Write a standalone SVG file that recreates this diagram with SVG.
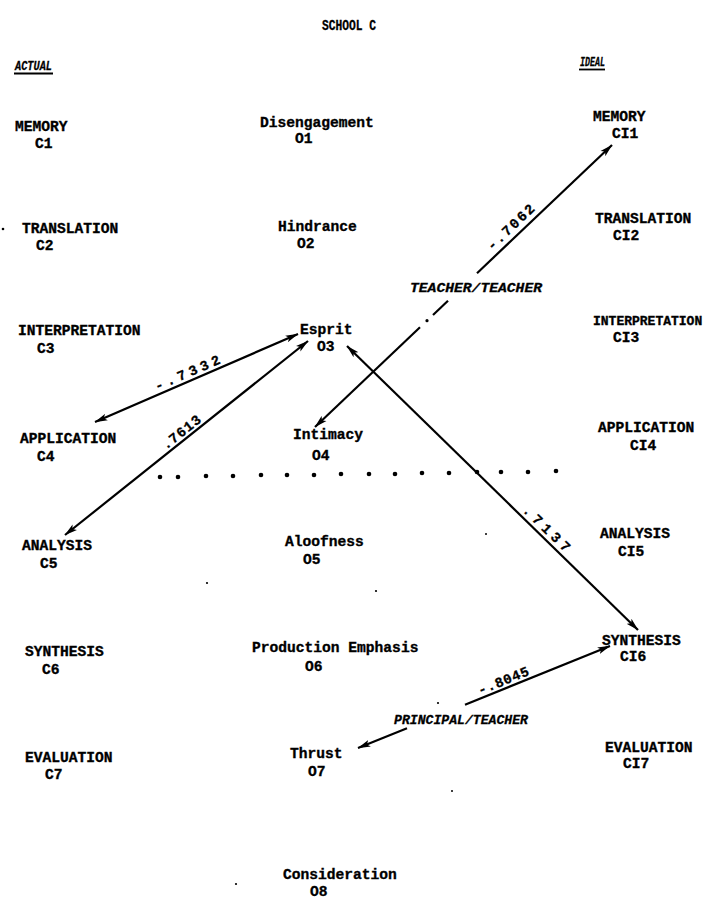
<svg xmlns="http://www.w3.org/2000/svg" width="710" height="909" viewBox="0 0 710 909">
  <style>
    .t { font-family: "Liberation Mono", "DejaVu Sans Mono", monospace; font-weight: bold; font-size: 14.6px; fill: #000; stroke: #000; stroke-width: 0.35px; }
    .h { font-family: "Liberation Mono", monospace; font-weight: bold; font-size: 14px; fill: #000; stroke: #000; stroke-width: 0.3px; }
    .hi { font-family: "Liberation Mono", monospace; font-weight: bold; font-style: italic; font-size: 13px; fill: #000; stroke: #000; stroke-width: 0.3px; }
    .lab { font-family: "Liberation Mono", monospace; font-weight: bold; font-style: italic; font-size: 13px; fill: #000; stroke: #000; stroke-width: 0.3px; }
    .num { font-family: "Liberation Mono", monospace; font-weight: bold; font-size: 14px; fill: #000; stroke: #000; stroke-width: 0.3px; }
    .ln { stroke: #000; stroke-width: 2.2; fill: none; }
    .ul { stroke: #000; stroke-width: 1.8; }
  </style>
  <defs>
    <marker id="ah" viewBox="0 0 13 8" refX="12.5" refY="4" markerWidth="13" markerHeight="8" markerUnits="userSpaceOnUse" orient="auto-start-reverse">
      <path d="M0,0.5 L13,4 L0,7.5 L3,4 z" fill="#000"/>
    </marker>
  </defs>
  <rect width="710" height="909" fill="#fff"/>

  <!-- headings -->
  <g id="title">
    <text class="h" x="322" y="30" textLength="54" lengthAdjust="spacingAndGlyphs">SCHOOL C</text>
  </g>
  <g id="head-actual">
    <text class="hi" x="15" y="70" textLength="37" lengthAdjust="spacingAndGlyphs">ACTUAL</text>
    <line class="ul" x1="14" y1="73.5" x2="53" y2="73.5"/>
  </g>
  <g id="head-ideal">
    <text class="hi" x="580" y="66" textLength="25" lengthAdjust="spacingAndGlyphs">IDEAL</text>
    <line class="ul" x1="579" y1="69.5" x2="605" y2="69.5"/>
  </g>

  <!-- actual cognitive levels -->
  <g id="C1"><text class="t" x="15" y="131">MEMORY</text><text class="t" x="35" y="148">C1</text></g>
  <g id="C2"><text class="t" x="22" y="233">TRANSLATION</text><text class="t" x="36" y="250">C2</text></g>
  <g id="C3"><text class="t" x="18" y="335">INTERPRETATION</text><text class="t" x="37" y="353">C3</text></g>
  <g id="C4"><text class="t" x="20" y="443">APPLICATION</text><text class="t" x="37" y="461">C4</text></g>
  <g id="C5"><text class="t" x="22" y="550">ANALYSIS</text><text class="t" x="40" y="568">C5</text></g>
  <g id="C6"><text class="t" x="25" y="656">SYNTHESIS</text><text class="t" x="42" y="674">C6</text></g>
  <g id="C7"><text class="t" x="25" y="762">EVALUATION</text><text class="t" x="45" y="779">C7</text></g>

  <!-- organizational climate -->
  <g id="O1"><text class="t" x="260" y="127">Disengagement</text><text class="t" x="295" y="143">O1</text></g>
  <g id="O2"><text class="t" x="278" y="231">Hindrance</text><text class="t" x="297" y="248">O2</text></g>
  <g id="O3"><text class="t" x="300" y="334">Esprit</text><text class="t" x="317" y="351">O3</text></g>
  <g id="O4"><text class="t" x="293" y="439">Intimacy</text><text class="t" x="312" y="460">O4</text></g>
  <g id="O5"><text class="t" x="285" y="546">Aloofness</text><text class="t" x="303" y="564">O5</text></g>
  <g id="O6"><text class="t" x="252" y="652">Production Emphasis</text><text class="t" x="305" y="671">O6</text></g>
  <g id="O7"><text class="t" x="290" y="758">Thrust</text><text class="t" x="308" y="776">O7</text></g>
  <g id="O8"><text class="t" x="283" y="879">Consideration</text><text class="t" x="310" y="896">O8</text></g>

  <!-- ideal cognitive levels -->
  <g id="CI1"><text class="t" x="593" y="121">MEMORY</text><text class="t" x="612" y="138">CI1</text></g>
  <g id="CI2"><text class="t" x="595" y="223">TRANSLATION</text><text class="t" x="613" y="240">CI2</text></g>
  <g id="CI3"><text class="t" x="593" y="325" style="font-size:13px">INTERPRETATION</text><text class="t" x="613" y="342">CI3</text></g>
  <g id="CI4"><text class="t" x="598" y="432">APPLICATION</text><text class="t" x="630" y="450">CI4</text></g>
  <g id="CI5"><text class="t" x="600" y="538">ANALYSIS</text><text class="t" x="618" y="556">CI5</text></g>
  <g id="CI6"><text class="t" x="602" y="645">SYNTHESIS</text><text class="t" x="620" y="661">CI6</text></g>
  <g id="CI7"><text class="t" x="605" y="752">EVALUATION</text><text class="t" x="623" y="768">CI7</text></g>

  <!-- dotted divider -->
  <g id="divider" fill="#000">
    <circle cx="160" cy="477" r="2.3"/><circle cx="178" cy="477" r="2.3"/><circle cx="206" cy="476" r="2.3"/>
    <circle cx="233" cy="476" r="2.3"/><circle cx="261" cy="475" r="2.3"/><circle cx="287" cy="475" r="2.3"/>
    <circle cx="314" cy="475" r="2.3"/><circle cx="341" cy="474" r="2.3"/><circle cx="369" cy="474" r="2.3"/>
    <circle cx="395" cy="474" r="2.3"/><circle cx="422" cy="473" r="2.3"/><circle cx="449" cy="473" r="2.3"/>
    <circle cx="477" cy="472" r="2.3"/><circle cx="501" cy="472" r="2.3"/><circle cx="528" cy="472" r="2.3"/>
    <circle cx="556" cy="471" r="2.3"/>
  </g>

  <!-- connectors -->
  <g id="connectors">
    <line class="ln" x1="95" y1="422" x2="298" y2="334" marker-start="url(#ah)" marker-end="url(#ah)"/>
    <line class="ln" x1="65" y1="535" x2="308" y2="341" marker-start="url(#ah)" marker-end="url(#ah)"/>
    <line class="ln" x1="347" y1="346" x2="638" y2="630" marker-start="url(#ah)" marker-end="url(#ah)"/>
    <!-- teacher/teacher -->
    <line class="ln" x1="315" y1="427" x2="420" y2="327.3" marker-start="url(#ah)"/>
    <circle cx="427" cy="320.7" r="1.6" fill="#000"/>
    <line class="ln" x1="433" y1="315" x2="448" y2="300.7"/>
    <line class="ln" x1="477" y1="273.2" x2="612" y2="145" marker-end="url(#ah)"/>
    <!-- principal/teacher -->
    <line class="ln" x1="358" y1="748" x2="407" y2="728.2" marker-start="url(#ah)"/>
    <line class="ln" x1="465" y1="704.7" x2="610" y2="646" marker-end="url(#ah)"/>
  </g>

  <!-- connector labels -->
  <g id="labels">
    <text class="lab" x="410" y="292" textLength="132" lengthAdjust="spacingAndGlyphs">TEACHER/TEACHER</text>
    <text class="lab" x="394" y="724" textLength="134" lengthAdjust="spacingAndGlyphs">PRINCIPAL/TEACHER</text>
    <text class="num" x="157" y="391" textLength="70" lengthAdjust="spacing" transform="rotate(-23.4 157 391)">-.7332</text>
    <text class="num" x="166" y="450" textLength="46" lengthAdjust="spacing" transform="rotate(-38.5 166 450)">.7613</text>
    <text class="num" x="492" y="251" textLength="60" lengthAdjust="spacing" transform="rotate(-43.5 492 251)">-.7062</text>
    <text class="num" x="522" y="511" textLength="60" lengthAdjust="spacing" transform="rotate(44 522 511)">.7137</text>
    <text class="num" x="480" y="695" textLength="54" lengthAdjust="spacing" transform="rotate(-22 480 695)">-.8045</text>
  </g>

  <!-- stray specks -->
  <g id="specks" fill="#000">
    <circle cx="3" cy="229" r="1.3"/>
    <circle cx="207" cy="583" r="1.1"/>
    <circle cx="376" cy="591" r="1.1"/>
    <circle cx="486" cy="534" r="1"/>
    <circle cx="438" cy="703" r="1.1"/>
    <circle cx="452" cy="791" r="1"/>
    <circle cx="236" cy="884" r="1.1"/>
  </g>
</svg>
